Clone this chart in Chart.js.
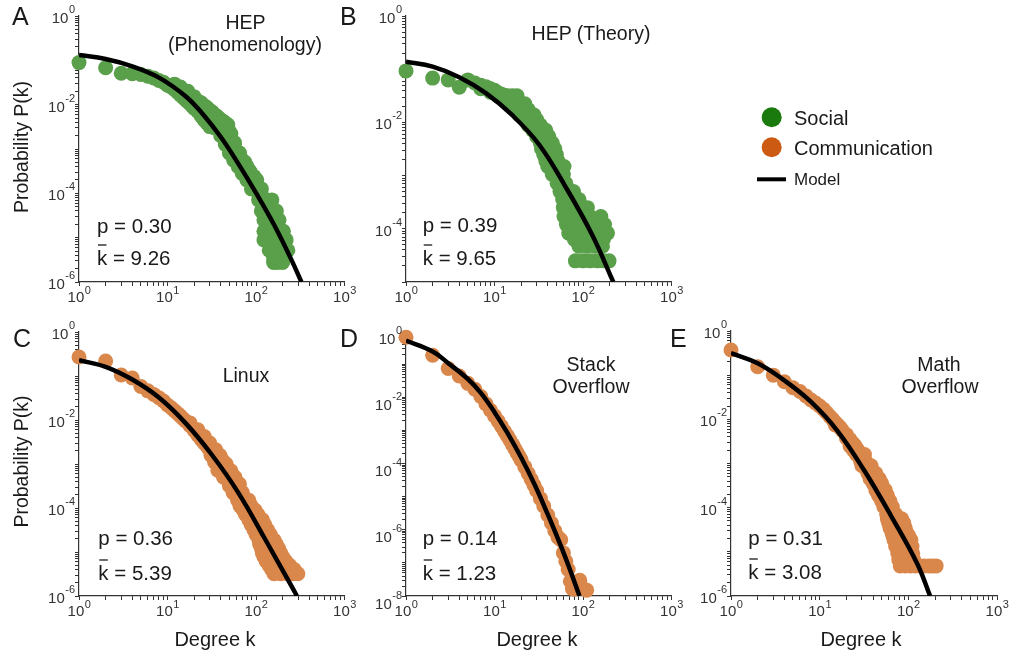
<!DOCTYPE html>
<html><head><meta charset="utf-8">
<script src="https://cdn.jsdelivr.net/npm/chart.js@4.4.0/dist/chart.umd.min.js"></script>
<style>
html,body{margin:0;padding:0;background:#fff;}
#wrap{position:relative;width:1011px;height:655px;overflow:hidden;background:#fff;}
canvas{position:absolute;left:0;top:0;}
svg{position:absolute;left:0;top:0;}
</style></head><body>
<div id="wrap">
<canvas id="cA" width="1011" height="655"></canvas>
<canvas id="cB" width="1011" height="655"></canvas>
<canvas id="cC" width="1011" height="655"></canvas>
<canvas id="cD" width="1011" height="655"></canvas>
<canvas id="cE" width="1011" height="655"></canvas>
<svg id="ov" width="1011" height="655" font-family="'Liberation Sans', Arial, Helvetica, sans-serif" fill="#1a1a1a">
  <text x="12" y="25" font-size="25">A</text>
  <text x="340" y="25" font-size="25">B</text>
  <text x="13" y="347" font-size="25">C</text>
  <text x="340" y="347" font-size="25">D</text>
  <text x="670" y="347" font-size="25">E</text>
  <text x="245.5" y="28.5" font-size="19.5" text-anchor="middle">HEP</text>
  <text x="245" y="51" font-size="19.5" text-anchor="middle">(Phenomenology)</text>
  <text x="591" y="39.5" font-size="19.5" text-anchor="middle">HEP (Theory)</text>
  <text x="246" y="382" font-size="19.5" text-anchor="middle">Linux</text>
  <text x="591" y="371" font-size="19.5" text-anchor="middle">Stack</text>
  <text x="591" y="393" font-size="19.5" text-anchor="middle">Overflow</text>
  <text x="939" y="371" font-size="19.5" text-anchor="middle">Math</text>
  <text x="940" y="393" font-size="19.5" text-anchor="middle">Overflow</text>
  <text x="97" y="233" font-size="20.5">p = 0.30</text>
  <text x="97" y="265" font-size="20.5">k = 9.26</text>
  <line x1="98" y1="245" x2="106.5" y2="245" stroke="#1a1a1a" stroke-width="1.3"/>
  <text x="422.7" y="232" font-size="20.5">p = 0.39</text>
  <text x="422.7" y="265" font-size="20.5">k = 9.65</text>
  <line x1="423.7" y1="245" x2="432.2" y2="245" stroke="#1a1a1a" stroke-width="1.3"/>
  <text x="98.3" y="545" font-size="20.5">p = 0.36</text>
  <text x="98.3" y="580" font-size="20.5">k = 5.39</text>
  <line x1="99.3" y1="560" x2="107.8" y2="560" stroke="#1a1a1a" stroke-width="1.3"/>
  <text x="422.7" y="545" font-size="20.5">p = 0.14</text>
  <text x="422.7" y="580" font-size="20.5">k = 1.23</text>
  <line x1="423.7" y1="560" x2="432.2" y2="560" stroke="#1a1a1a" stroke-width="1.3"/>
  <text x="748.3" y="545" font-size="20.5">p = 0.31</text>
  <text x="748.3" y="579" font-size="20.5">k = 3.08</text>
  <line x1="749.3" y1="559" x2="757.8" y2="559" stroke="#1a1a1a" stroke-width="1.3"/>
  <text transform="translate(27.5,147) rotate(-90)" font-size="19.5" text-anchor="middle">Probability P(k)</text>
  <text transform="translate(27.5,461.5) rotate(-90)" font-size="19.5" text-anchor="middle">Probability P(k)</text>
  <text x="215" y="646" font-size="20" text-anchor="middle">Degree k</text>
  <text x="537" y="646" font-size="20" text-anchor="middle">Degree k</text>
  <text x="861" y="646" font-size="20" text-anchor="middle">Degree k</text>
  <circle cx="771.7" cy="117.3" r="10" fill="#1a7a0e"/>
  <text x="794" y="125" font-size="20">Social</text>
  <circle cx="771.7" cy="147.3" r="10" fill="#cc5a12"/>
  <text x="794" y="155" font-size="20">Communication</text>
  <line x1="757" y1="179.3" x2="786" y2="179.3" stroke="#000" stroke-width="4"/>
  <text x="794" y="185" font-size="17">Model</text>
</svg>
</div>
<script>
// ---------- DATA ----------
// Panel A: HEP (Phenomenology) - social
const kA = [1,2,3,4,5,6,7,8,9,10,11,12,13,14,15,16,17,18,19,20,22,24,26,28,30,
  12,14,17,20,22,24,26,28,30,32,34,36,38,40,42,44,46,48,
  50,57,65,75,85,95,
  32,37,42, 34,42,48, 40,46,52, 45,51,57, 50,57,65, 56,64,70, 63,72,79, 70,80,88, 79,90,102, 89,100,115,
  107,125,151,118, 115,140,170, 123,150,182, 123,160,204, 123,165,219, 141,185,229, 158,195, 158,175,200];
const pA = [0.089,0.068,0.051,0.05,0.048,0.044,0.040,0.035,0.032,0.0275,0.025,0.022,0.019,0.0166,0.0145,0.013,0.0117,0.0105,0.0093,0.0083,0.007,0.0056,0.0045,0.0038,0.0032,
  0.029,0.025,0.02,0.015,0.012,0.011,0.0095,0.0085,0.0075,0.0068,0.006,0.0055,0.005,0.0045,0.0042,0.004,0.0037,0.0035,
  0.0025,0.0014,0.00081,0.0005,0.00032,0.00024,
  0.0045,0.0045,0.0042, 0.003,0.003,0.003, 0.002,0.002,0.0022, 0.00126,0.00126,0.0013, 0.00081,0.00081,0.00081,
  0.00056,0.00056,0.00056, 0.0004,0.0004,0.0004, 0.00028,0.00028,0.00028, 0.0002,0.0002,0.0002, 0.000126,0.000126,0.000126,
  7.1e-5,7.1e-5,7.1e-5,8.5e-5, 4e-5,4e-5,4e-5, 2.5e-5,2.5e-5,2.5e-5, 1.4e-5,1.4e-5,1.4e-5, 8.9e-6,8.9e-6,8.9e-6,
  5.2e-6,5.2e-6,5.2e-6, 3.5e-6,3.5e-6, 2.75e-6,2.75e-6,2.75e-6];
const modelKA = [1,2,4,8,16,25,40,63,100,160,250,326];
const modelPA = [0.132,0.107,0.0733,0.0407,0.0155,0.00617,0.00186,4.68e-4,1.02e-4,1.95e-5,3.24e-6,1.0e-6];

// Panel B: HEP (Theory) - social
const kB = [1,2,3,4,5,6,7,8,9,10,11,12,13,14,15,16,17, 7,9,11,13,15,
  12,14,16,18, 15,17,19,22, 18,21,24, 19,22,25,28, 22,26,30, 24,28,33, 27,32,38, 30,35,41, 33,38,45,
  34,40,48, 36,42,50, 38,45,52, 40,47,54,61, 45,52,60, 51,57,64, 55,62,70,78, 59,68,78,90,
  60,70,82,98,112, 61,75,95,120,159, 65,80,100,125,150,175, 69,85,105,130,160,189, 80,95,115,140,170,
  90,110,135,166, 82,100,120,145,170,197];
const pB = [0.093,0.068,0.063,0.046,0.063,0.055,0.05,0.047,0.043,0.04,0.036,0.034,0.032,0.03,0.031,0.026,0.022, 0.043,0.037,0.031,0.026,0.022,
  0.0316,0.0316,0.0316,0.0316, 0.0224,0.0224,0.0224,0.0224, 0.0174,0.0174,0.0174, 0.0138,0.0138,0.0138,0.0138,
  0.0112,0.0112,0.0112, 0.0089,0.0089,0.0089, 0.0071,0.0071,0.0071, 0.0054,0.0054,0.0054, 0.0041,0.0041,0.0041,
  0.0032,0.0032,0.0032, 0.0025,0.0025,0.0025, 0.0019,0.0019,0.0019, 0.00148,0.00148,0.00148,0.00148,
  0.00105,0.00105,0.00105, 7.2e-4,7.2e-4,7.2e-4, 5.0e-4,5.0e-4,5.0e-4,5.0e-4, 3.55e-4,3.55e-4,3.55e-4,3.55e-4,
  2.5e-4,2.5e-4,2.5e-4,2.5e-4,2.5e-4, 1.7e-4,1.7e-4,1.7e-4,1.7e-4,1.7e-4, 1.2e-4,1.2e-4,1.2e-4,1.2e-4,1.2e-4,1.2e-4,
  8.3e-5,8.3e-5,8.3e-5,8.3e-5,8.3e-5,8.3e-5, 6.3e-5,6.3e-5,6.3e-5,6.3e-5,6.3e-5,
  4.7e-5,4.7e-5,4.7e-5,4.7e-5, 2.5e-5,2.5e-5,2.5e-5,2.5e-5,2.5e-5,2.5e-5];
const modelKB = [1,2,4,8,16,32,63,126,220];
const modelPB = [0.138,0.112,0.0708,0.0355,0.0135,0.0038,6.3e-4,7.9e-5,1.0e-5];

// Panel C: Linux - communication
const kC = [1,2,3,4,5,6,7,8,9,10,11,12,13,14,15,16,18,20,22,24,26,28,30,
  18,22,26,30,35,40,46,52,58,65,
  31,35,39, 34,38,43, 37,41,46, 43,48,54, 50,56,63, 55,62,70, 62,70,83, 66,75,88, 72,82,98, 76,88,105,
  83,97,118, 88,102,125, 95,110,135, 100,118,145, 108,130,160, 110,135,170, 115,140,180, 118,148,190,
  123,155,200, 130,165,215, 140,180,240, 150,185,230,270, 160,190,225,260,297];
const pC = [0.27,0.22,0.105,0.09,0.058,0.046,0.038,0.032,0.027,0.022,0.019,0.0162,0.0141,0.0123,0.0107,0.0095,0.0074,0.0058,0.0045,0.0036,0.003,0.0025,0.0021,
  0.0085,0.006,0.0042,0.003,0.0021,0.0014,0.001,0.0007,0.0005,0.00035,
  0.00158,0.00158,0.00158, 0.00112,0.00112,0.00112, 7.2e-4,7.2e-4,7.2e-4, 5.0e-4,5.0e-4,5.0e-4, 3.2e-4,3.2e-4,3.2e-4,
  2.24e-4,2.24e-4,2.24e-4, 1.5e-4,1.5e-4,1.5e-4, 1.12e-4,1.12e-4,1.12e-4, 8.9e-5,8.9e-5,8.9e-5, 7.1e-5,7.1e-5,7.1e-5,
  5.4e-5,5.4e-5,5.4e-5, 4.2e-5,4.2e-5,4.2e-5, 3.2e-5,3.2e-5,3.2e-5, 2.5e-5,2.5e-5,2.5e-5, 1.86e-5,1.86e-5,1.86e-5,
  1.5e-5,1.5e-5,1.5e-5, 1.2e-5,1.2e-5,1.2e-5, 9.5e-6,9.5e-6,9.5e-6,
  7.8e-6,7.8e-6,7.8e-6, 6.3e-6,6.3e-6,6.3e-6, 5.0e-6,5.0e-6,5.0e-6, 4.0e-6,4.0e-6,4.0e-6,4.0e-6, 3.2e-6,3.2e-6,3.2e-6,3.2e-6,3.2e-6];
const modelKC = [1,2,4,8,16,32,63,126,251,290];
const modelPC = [0.229,0.162,0.0832,0.0324,0.0085,0.00158,2.24e-4,2.0e-5,1.7e-6,1.0e-6];

// Panel D: Stack Overflow - communication
const kD = [1,2,3,4,5,6,7,8,9,10,11,12,13,14,15,16,17,18,19,20,22,24,26,28,30,33,36,40,44,48,52,56,60,64,68,72,76,80,88,92,99,110];
const pD = [0.646,0.186,0.0741,0.0437,0.0263,0.0174,0.0105,0.0063,0.00407,0.00275,0.0019,0.00132,9.3e-4,6.8e-4,5.0e-4,3.7e-4,2.8e-4,2.1e-4,1.62e-4,1.26e-4,
  7.9e-5,5.0e-5,3.3e-5,2.2e-5,1.5e-5,8.7e-6,5.2e-6,2.8e-6,1.6e-6,9.3e-7,6.0e-7,5.0e-7,2.0e-7,1.12e-7,6.3e-8,2.8e-8,1.66e-8,1.6e-8,2.8e-8,3.0e-8,1.74e-8,1.5e-8];
const modelKD = [1,2,3,5,7,10,14.1,20,28.2,39.8,56.2,70.8,91.2];
const modelPD = [0.513,0.24,0.107,0.0355,0.0135,0.00355,8.1e-4,1.51e-4,2.4e-5,3.0e-6,3.24e-7,6.5e-8,1.0e-8];

// Panel E: Math Overflow - communication
const kE = [1,2,3,4,5,6,7,8,9,10,11,12,13,14,15,16,17,18,20,22,24,26,28,30,33,36,40,
  15,20,25,30, 24,27, 29,33, 22,25, 26,29,32, 30,34,38,
  35,39,43, 37,42,47, 40,45,50, 43,49,55, 46,52,58, 50,56,62, 53,59,66, 57,63,72,
  58,66,75,84, 60,68,78,89, 62,72,82,92, 65,75,85,95, 67,78,90,101, 69,80,93,107, 72,84,96,110, 76,88,100,112, 78,90,102,115,
  81,92,105,120,135,150,170,188,206];
const pE = [0.37,0.155,0.1,0.071,0.052,0.0427,0.0339,0.0275,0.0234,0.02,0.017,0.0141,0.0117,0.01,0.0085,0.0074,0.0065,0.0056,0.0045,0.0035,0.0028,0.0022,0.0018,0.00135,0.001,0.0007,0.0005,
  0.0075,0.0038,0.0021,0.0011, 0.002,0.002, 0.00112,0.00112, 0.0025,0.0025, 0.0016,0.0016,0.0016, 8.9e-4,8.9e-4,8.9e-4,
  6.0e-4,6.0e-4,6.0e-4, 4.5e-4,4.5e-4,4.5e-4, 3.55e-4,3.55e-4,3.55e-4, 2.5e-4,2.5e-4,2.5e-4, 1.9e-4,1.9e-4,1.9e-4,
  1.41e-4,1.41e-4,1.41e-4, 1.05e-4,1.05e-4,1.05e-4, 7.1e-5,7.1e-5,7.1e-5,
  5.6e-5,5.6e-5,5.6e-5,5.6e-5, 4.5e-5,4.5e-5,4.5e-5,4.5e-5, 3.5e-5,3.5e-5,3.5e-5,3.5e-5, 2.8e-5,2.8e-5,2.8e-5,2.8e-5,
  2.3e-5,2.3e-5,2.3e-5,2.3e-5, 1.86e-5,1.86e-5,1.86e-5,1.86e-5, 1.32e-5,1.32e-5,1.32e-5,1.32e-5, 9.3e-6,9.3e-6,9.3e-6,9.3e-6,
  6.6e-6,6.6e-6,6.6e-6,6.6e-6,
  4.8e-6,4.8e-6,4.8e-6,4.8e-6,4.8e-6,4.8e-6,4.8e-6,4.8e-6,4.8e-6];
const modelKE = [1,2,4,7.94,15.85,31.6,63.1,126,176];
const modelPE = [0.316,0.186,0.0759,0.0251,0.0055,7.1e-4,6.8e-5,5.4e-6,1.0e-6];

// tick label exponents
const xTickExps = [0,1,2,3];
const yTickExpsA = [0,-2,-4,-6];
const yTickExpsB = [0,-2,-4];
const yTickExpsC = [0,-2,-4,-6];
const yTickExpsD = [0,-2,-4,-6,-8];
const yTickExpsE = [0,-2,-4,-6];

// ---------- STYLE / LAYOUT ----------
const FONT = '"Liberation Sans", Arial, Helvetica, sans-serif';
const GREEN = '#5a9f4a';
const ORANGE = '#d9874b';
const YW = 40, XW = 30, W = 1011, H = 655;

const panels = [
  {id:'cA', k:kA, p:pA, mk:modelKA, mp:modelPA, color:GREEN,  L:79,  R:344.5, T:16,  B:282, yMin:-6, yExps:yTickExpsA, shift:0},
  {id:'cB', k:kB, p:pB, mk:modelKB, mp:modelPB, color:GREEN,  L:406, R:671.5, T:16,  B:282, yMin:-5, yExps:yTickExpsB, shift:0},
  {id:'cC', k:kC, p:pC, mk:modelKC, mp:modelPC, color:ORANGE, L:79,  R:344.5, T:332, B:596, yMin:-6, yExps:yTickExpsC, shift:0},
  {id:'cD', k:kD, p:pD, mk:modelKD, mp:modelPD, color:ORANGE, L:406, R:671.5, T:331, B:596, yMin:-8, yExps:yTickExpsD, shift:5.5},
  {id:'cE', k:kE, p:pE, mk:modelKE, mp:modelPE, color:ORANGE, L:731, R:997,   T:331, B:596, yMin:-6, yExps:yTickExpsE, shift:0}
];

function logTicks(minExp, maxExp) {
  const t = [];
  for (let e = minExp; e < maxExp; e++) for (let m = 1; m < 10; m++) t.push({value: m * Math.pow(10, e)});
  t.push({value: Math.pow(10, maxExp)});
  return t;
}

const tickLabels = {
  id: 'tickLabels',
  afterDraw(chart, args, o) {
    const ctx = chart.ctx, area = chart.chartArea;
    const xs = chart.scales.x, ys = chart.scales.y;
    const bigF = '15px ' + FONT, smallF = '11px ' + FONT;
    ctx.save();
    ctx.fillStyle = '#333';
    ctx.textBaseline = 'alphabetic';
    for (const e of o.xExps) {
      const px = xs.getPixelForValue(Math.pow(10, e));
      const sup = String(e);
      ctx.font = bigF; const wb = ctx.measureText('10').width;
      ctx.font = smallF; const ws = ctx.measureText(sup).width;
      const x0 = px - (wb + ws) / 2;
      ctx.textAlign = 'left';
      ctx.font = bigF; ctx.fillText('10', x0, area.bottom + 20);
      ctx.font = smallF; ctx.fillText(sup, x0 + wb + 0.5, area.bottom + 11.5);
    }
    for (const e of o.yExps) {
      const py = ys.getPixelForValue(Math.pow(10, e));
      const sup = String(e);
      ctx.font = smallF; const ws = ctx.measureText(sup).width;
      const right = area.left - 4;
      ctx.textAlign = 'right';
      ctx.fillText(sup, right, py - 3 + o.shift);
      ctx.font = bigF;
      ctx.fillText('10', right - ws - 0.5, py + 7 + o.shift);
    }
    ctx.restore();
  }
};

function axisBase() {
  return {
    type: 'logarithmic',
    ticks: {display: false},
    grid: {display: true, drawOnChartArea: false, drawTicks: true, tickLength: 4, tickColor: '#333', color: '#333', lineWidth: 1},
    border: {display: true, color: '#333', width: 1.2}
  };
}

panels.forEach(g => {
  const xAxis = Object.assign(axisBase(), {
    min: 1, max: 1000,
    afterFit(s) { s.height = XW; },
    afterBuildTicks(s) { s.ticks = logTicks(0, 3); }
  });
  const yAxis = Object.assign(axisBase(), {
    min: Math.pow(10, g.yMin), max: 1,
    afterFit(s) { s.width = YW; },
    afterBuildTicks(s) { s.ticks = logTicks(g.yMin, 0); }
  });
  new Chart(document.getElementById(g.id), {
    type: 'scatter',
    data: {
      datasets: [
        {
          data: g.mk.map((k, i) => ({x: k, y: g.mp[i]})),
          showLine: true, borderColor: '#000', borderWidth: 4.5, pointRadius: 0,
          tension: 0.4, borderCapStyle: 'butt', fill: false, order: 0
        },
        {
          data: g.k.map((k, i) => ({x: k, y: g.p[i]})),
          showLine: false, pointRadius: 7.5, pointBackgroundColor: g.color, backgroundColor: g.color,
          pointBorderWidth: 0, borderWidth: 0, clip: false, order: 1
        }
      ]
    },
    options: {
      responsive: false, animation: false, devicePixelRatio: 1, events: [],
      layout: {padding: {left: g.L - YW, right: W - g.R, top: g.T, bottom: H - g.B - XW}},
      plugins: {legend: {display: false}, tooltip: {enabled: false},
        tickLabels: {xExps: xTickExps, yExps: g.yExps, shift: g.shift}},
      scales: {x: xAxis, y: yAxis}
    },
    plugins: [tickLabels]
  });
});
</script>
</body></html>
